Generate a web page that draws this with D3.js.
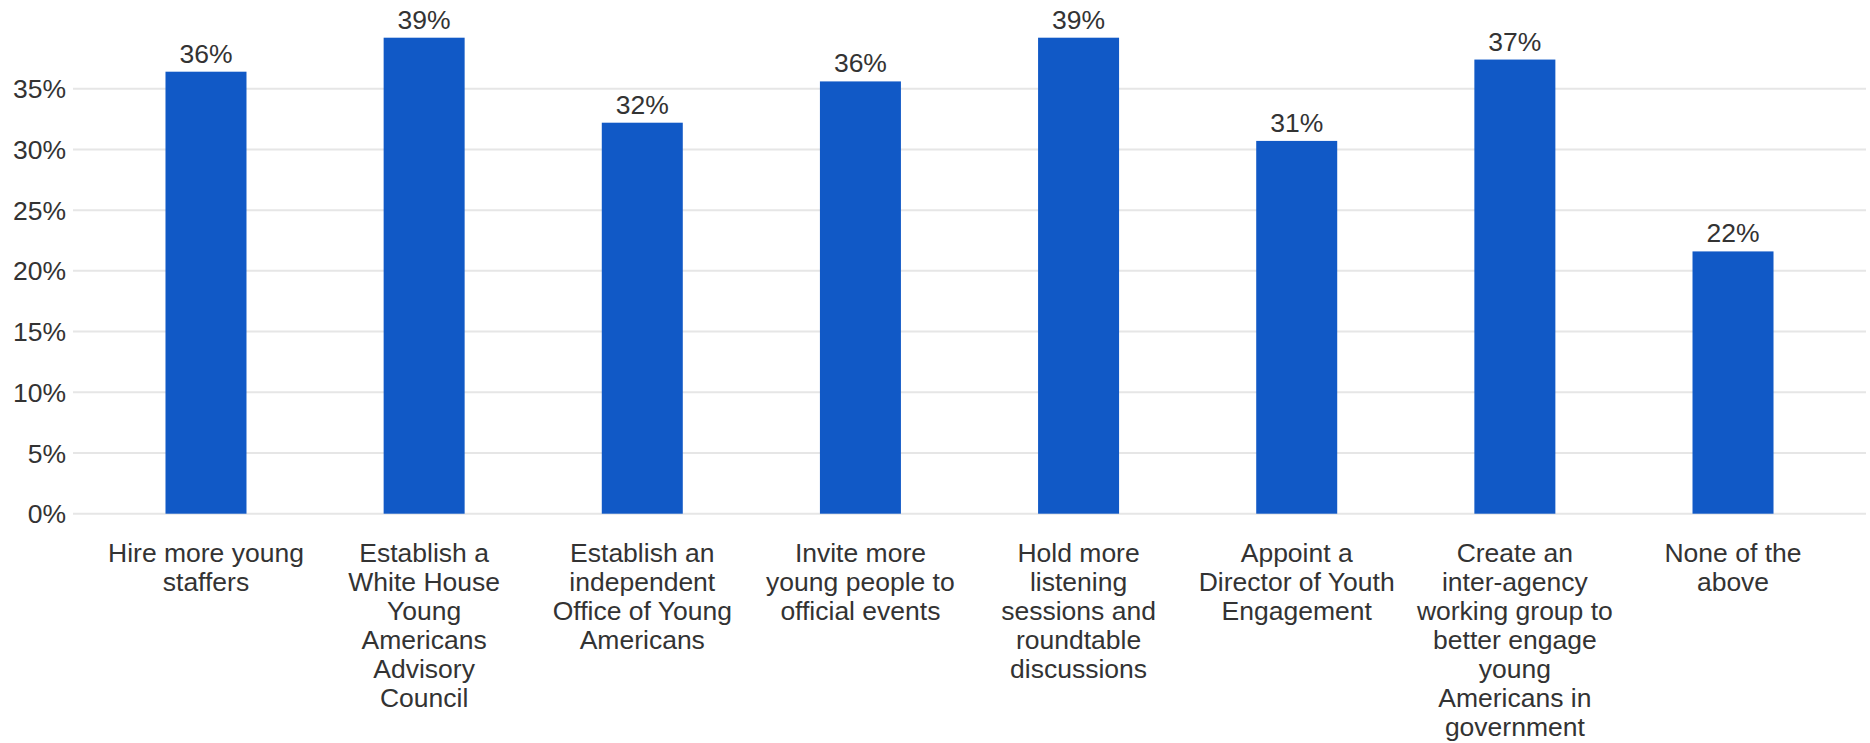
<!DOCTYPE html>
<html>
<head>
  <meta charset="utf-8">
  <script src="https://d3js.org/d3.v7.min.js"></script>
  <style>
    body { margin: 0; background: #fff; }
    text { font-family: "Liberation Sans", Arial, sans-serif; fill: #333; }
  </style>
</head>
<body>
<script>
  // categories (pre-broken into lines as in the original)
  var categories = [
    ["Hire more young", "staffers"],
    ["Establish a", "White House", "Young", "Americans", "Advisory", "Council"],
    ["Establish an", "independent", "Office of Young", "Americans"],
    ["Invite more", "young people to", "official events"],
    ["Hold more", "listening", "sessions and", "roundtable", "discussions"],
    ["Appoint a", "Director of Youth", "Engagement"],
    ["Create an", "inter-agency", "working group to", "better engage", "young", "Americans in", "government"],
    ["None of the", "above"]
  ];
  var values = [36.4, 39.2, 32.2, 35.6, 39.2, 30.7, 37.4, 21.6];
  var yTicks = [0, 5, 10, 15, 20, 25, 30, 35];

  var width = 1870, height = 743;
  var left = 73, right = 1866, bottom = 513.7;
  var fontSize = "26.5px";

  var svg = d3.select("body").append("svg")
      .attr("width", width)
      .attr("height", height);

  var x = d3.scaleBand()
      .domain(d3.range(categories.length))
      .range([left, right])
      .paddingInner(0.6287)
      .paddingOuter(0.424);

  var y = d3.scaleLinear()
      .domain([0, 35])
      .range([bottom, 88.7]);

  // gridlines
  svg.append("g").selectAll("line")
      .data(yTicks)
      .enter().append("line")
        .attr("x1", left)
        .attr("x2", right)
        .attr("y1", function (d) { return y(d); })
        .attr("y2", function (d) { return y(d); })
        .style("stroke", "#e6e6e6")
        .style("stroke-width", 2);

  // y tick labels
  svg.append("g").selectAll("text")
      .data(yTicks)
      .enter().append("text")
        .attr("x", 66)
        .attr("y", function (d) { return y(d); })
        .attr("dy", "0.36em")
        .attr("text-anchor", "end")
        .style("font-size", fontSize)
        .text(function (d) { return d + "%"; });

  // bars
  svg.append("g").selectAll("rect")
      .data(values)
      .enter().append("rect")
        .attr("x", function (d, i) { return x(i); })
        .attr("width", x.bandwidth())
        .attr("y", function (d) { return y(d); })
        .attr("height", function (d) { return y(0) - y(d); })
        .style("fill", "#1159c6");

  // value labels
  svg.append("g").selectAll("text")
      .data(values)
      .enter().append("text")
        .attr("x", function (d, i) { return x(i) + x.bandwidth() / 2; })
        .attr("y", function (d) { return y(d) - 9; })
        .attr("text-anchor", "middle")
        .style("font-size", fontSize)
        .text(function (d) { return Math.round(d) + "%"; });

  // category labels
  var cat = svg.append("g").selectAll("text")
      .data(categories)
      .enter().append("text")
        .attr("x", function (d, i) { return x(i) + x.bandwidth() / 2; })
        .attr("y", bottom + 48)
        .attr("text-anchor", "middle")
        .style("font-size", fontSize);

  cat.selectAll("tspan")
      .data(function (d) { return d; })
      .enter().append("tspan")
        .attr("x", function () { return d3.select(this.parentNode).attr("x"); })
        .attr("dy", function (d, i) { return i === 0 ? 0 : 29; })
        .text(function (d) { return d; });
</script>
</body>
</html>
